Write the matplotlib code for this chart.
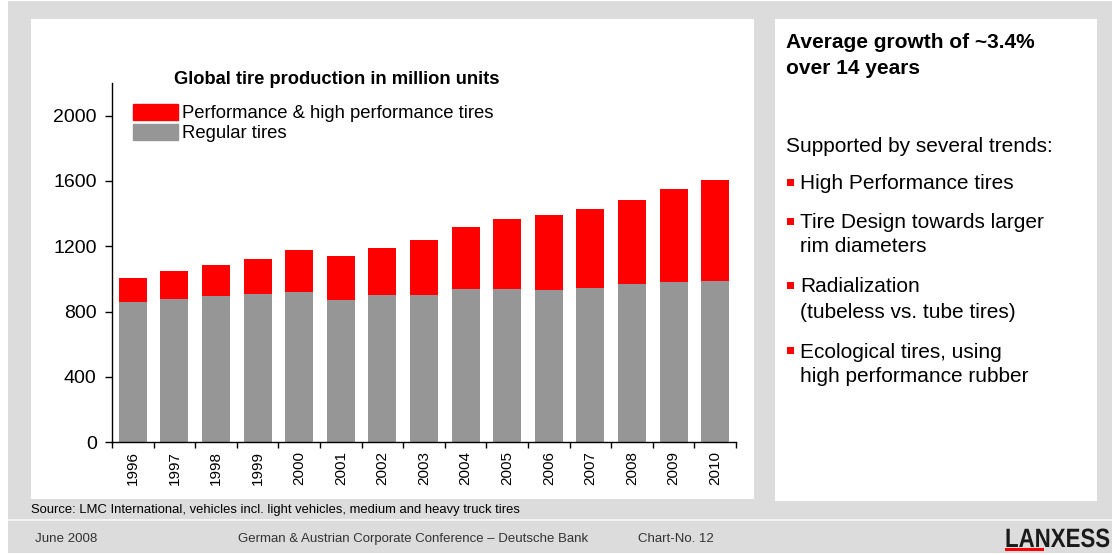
import matplotlib
matplotlib.use('Agg')
import matplotlib.pyplot as plt
from matplotlib.patches import Rectangle, Patch, PathPatch
from matplotlib.textpath import TextPath
from matplotlib.font_manager import FontProperties
from matplotlib.transforms import Affine2D, IdentityTransform
import numpy as np

years = ['1996', '1997', '1998', '1999', '2000', '2001', '2002', '2003',
         '2004', '2005', '2006', '2007', '2008', '2009', '2010']
regular = [856, 879, 897, 911, 920, 871, 902, 902, 939, 939, 934, 946, 971, 983, 989]
total = [1007, 1050, 1087, 1124, 1178, 1141, 1190, 1239, 1318, 1367, 1393, 1430, 1485, 1552, 1607]
performance = [t - r for t, r in zip(total, regular)]

series_labels = ['Performance & high performance tires', 'Regular tires']
y_ticks = [0, 400, 800, 1200, 1600, 2000]

bullets = [['High Performance tires'],
           ['Tire Design towards larger', 'rim diameters'],
           ['Radialization', '(tubeless vs. tube tires)'],
           ['Ecological tires, using', 'high performance rubber']]

W, H = 1112, 555
RED = '#ff0000'
GREY = '#969696'
BG = '#dcdcdc'
FONT = ['Liberation Sans', 'DejaVu Sans']
plt.rcParams['font.family'] = FONT


def fx(x):
    return x / W


def fy(y):
    return 1 - y / H


def box(fig, x0, y0, x1, y1, color):
    fig.patches.append(Rectangle((fx(x0), fy(y1)), fx(x1 - x0), (y1 - y0) / H,
                                 transform=fig.transFigure, color=color, zorder=0, lw=0))


fig = plt.figure(figsize=(W / 100, H / 100), dpi=100)
fig.patch.set_facecolor('white')

# slide background and panels
box(fig, 8, 1, W, 553, BG)
box(fig, 31, 19, 754, 499, 'white')
box(fig, 775, 19, 1097, 501, 'white')
box(fig, 8, 519, W, 521, '#f2f2f2')

# chart
ax = fig.add_axes([fx(112), fy(442.3), fx(736 - 112), (442.3 - 83) / H])
ax.set_zorder(3)
x = np.arange(len(years))
ax.bar(x, regular, 0.67, color=GREY, label=series_labels[1])
ax.bar(x, performance, 0.67, bottom=regular, color=RED, label=series_labels[0])
ax.set_xlim(-0.5, len(years) - 0.5)
ax.set_ylim(0, 2200)
ax.set_yticks(y_ticks)
ax.set_yticklabels([str(v) for v in y_ticks], fontsize=14)
ax.set_xticks(x)
ax.set_xticklabels(years, rotation=90, fontsize=11)
ax.set_xticks(np.arange(-0.5, len(years)), minor=True)
ax.tick_params(axis='x', which='major', length=0, pad=6)
ax.tick_params(axis='x', which='minor', length=4, width=1, direction='out')
ax.tick_params(axis='y', length=5, width=1, direction='out', pad=6)
for s in ['top', 'right']:
    ax.spines[s].set_visible(False)
ax.spines['left'].set_linewidth(1)
ax.spines['bottom'].set_linewidth(1)
ax.set_facecolor('white')

handles = [Patch(color=RED), Patch(color=GREY)]
leg = fig.legend(handles, series_labels, loc='upper left', bbox_to_anchor=(fx(133), fy(104)),
                 frameon=False, fontsize=13.3, handlelength=2.45, handleheight=0.95,
                 handletextpad=0.2, labelspacing=0.1, borderpad=0, borderaxespad=0)
leg.set_zorder(4)

fig.text(fx(337), fy(80), 'Global tire production in million units', ha='center', va='center',
         fontsize=13.2, fontweight='bold', zorder=4)

# right panel
fig.text(fx(786), fy(43), 'Average growth of ~3.4%', va='center', fontsize=15, fontweight='bold')
fig.text(fx(786), fy(68), 'over 14 years', va='center', fontsize=15, fontweight='bold')
fig.text(fx(786), fy(146), 'Supported by several trends:', va='center', fontsize=15)
rows = [[184], [223, 247], [287, 313], [352, 377]]
for lines, ys in zip(bullets, rows):
    box(fig, 787, ys[0] - 5, 794, ys[0] + 2, RED)
    for line, yy in zip(lines, ys):
        fig.text(fx(800), fy(yy), line, va='center', fontsize=15)

# source and footer
fig.text(fx(31), fy(510), 'Source: LMC International, vehicles incl. light vehicles, medium and heavy truck tires',
         va='center', fontsize=9.4)
fig.text(fx(35), fy(539), 'June 2008', va='center', fontsize=9.6, color='#333333')
fig.text(fx(238), fy(539), 'German & Austrian Corporate Conference \u2013 Deutsche Bank', va='center',
         fontsize=9.5, color='#333333')
fig.text(fx(638), fy(539), 'Chart-No. 12', va='center', fontsize=9.5, color='#333333')

# logo as narrowed text path
logo = TextPath((0, 0), 'LANXESS', size=26.5, prop=FontProperties(family=FONT, weight='bold'))
logo_tr = Affine2D().scale(0.84, 1.0).translate(1005, H - 547) + IdentityTransform()
fig.patches.append(PathPatch(logo, transform=logo_tr, color='#1a1a1a', lw=0, zorder=2))
box(fig, 1005, 548, 1044, 551, RED)

fig.savefig('out.png', dpi=100, facecolor='white')
